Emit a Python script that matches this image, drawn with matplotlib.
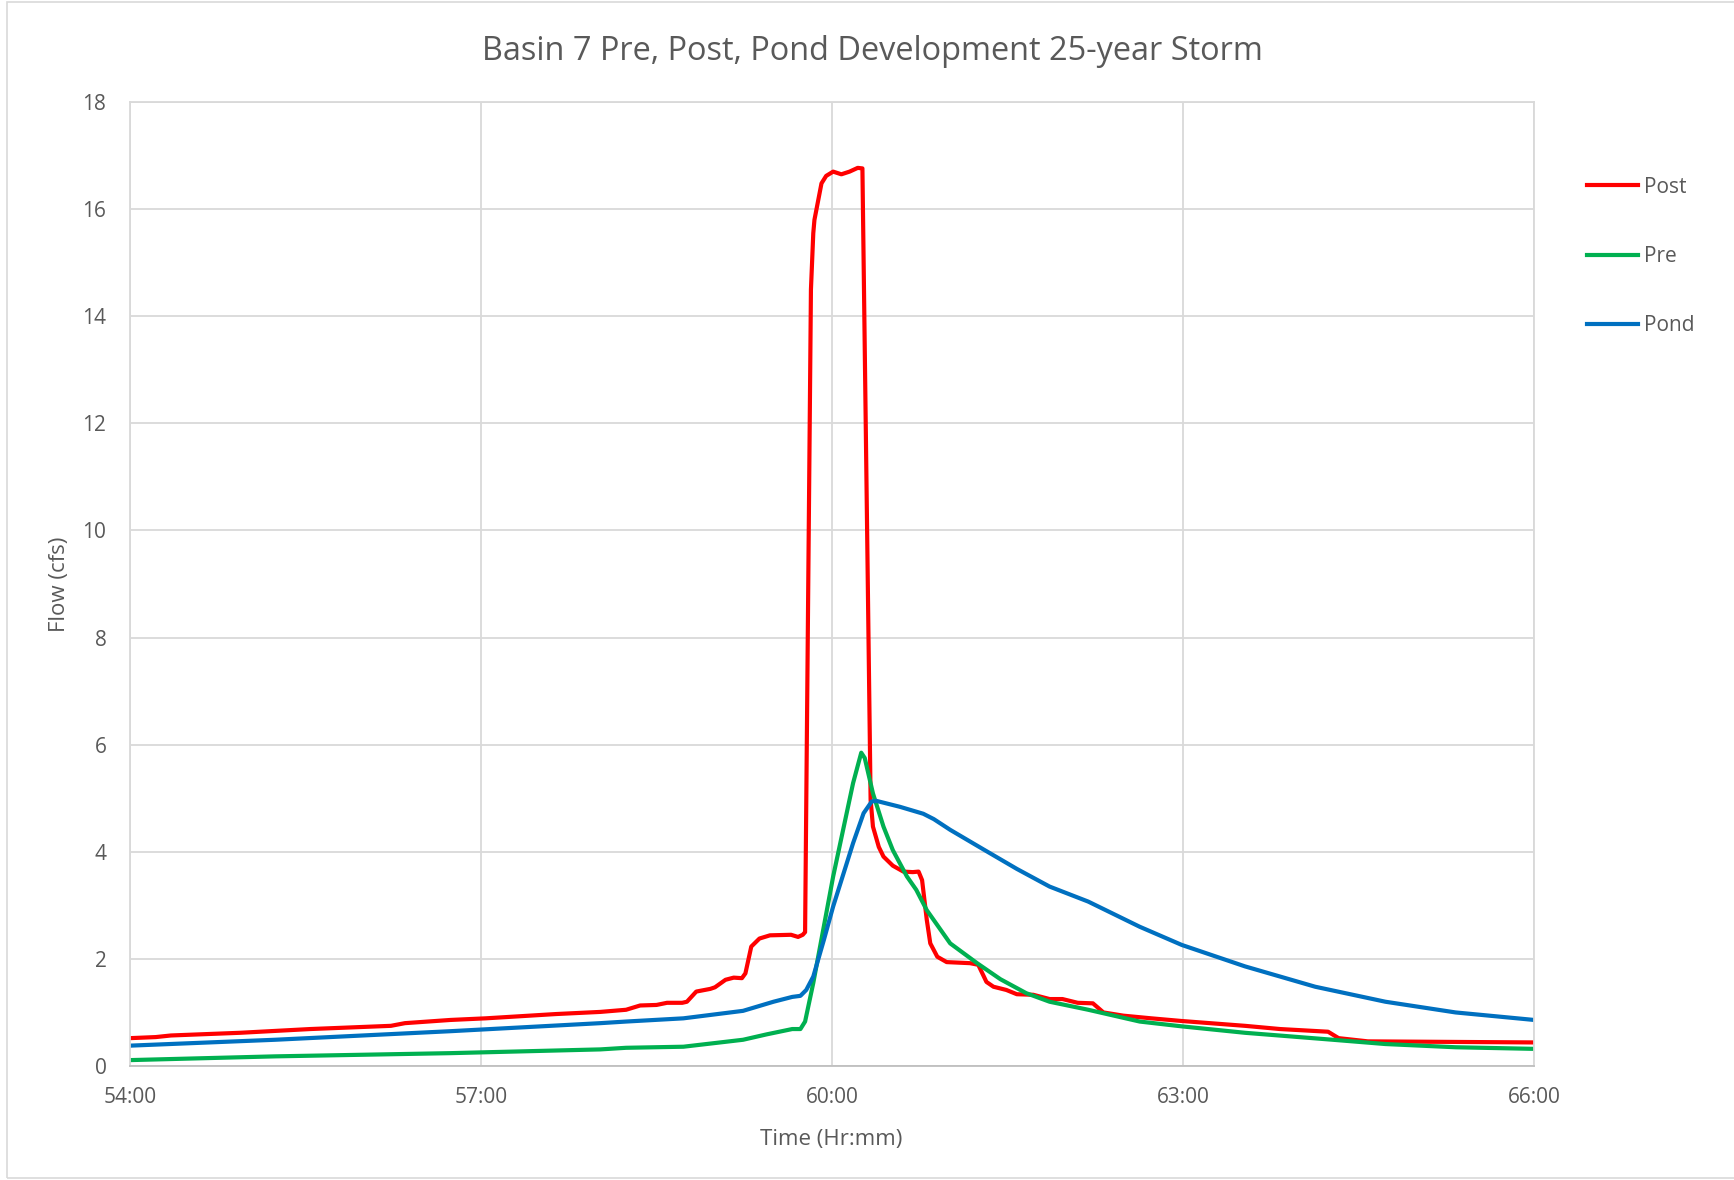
import matplotlib.pyplot as plt
from matplotlib.patches import Rectangle

# hours from start, flow in cfs
post_t = [54.0, 54.22, 54.35, 54.94, 55.54, 56.23, 56.35, 56.74, 57.04, 57.64, 58.02, 58.24,
          58.36, 58.50, 58.59, 58.72, 58.76, 58.84, 58.96, 59.00, 59.09, 59.16, 59.23, 59.26,
          59.31, 59.38, 59.47, 59.65, 59.71, 59.75, 59.77, 59.82, 59.84, 59.85, 59.91, 59.95,
          60.01, 60.08, 60.15, 60.22, 60.26, 60.33, 60.35, 60.40, 60.44, 60.52, 60.61, 60.69,
          60.74, 60.77, 60.81, 60.84, 60.90, 60.98, 61.18, 61.25, 61.32, 61.38, 61.49, 61.58,
          61.72, 61.86, 61.97, 62.10, 62.23, 62.32, 62.49, 62.73, 62.99, 63.23, 63.53, 63.83,
          64.24, 64.33, 64.58, 66.0]
post_q = [0.52, 0.54, 0.57, 0.62, 0.69, 0.75, 0.80, 0.86, 0.89, 0.97, 1.01, 1.05,
          1.13, 1.14, 1.18, 1.18, 1.20, 1.39, 1.44, 1.47, 1.61, 1.65, 1.64, 1.73,
          2.23, 2.38, 2.44, 2.45, 2.41, 2.45, 2.50, 14.5, 15.55, 15.8, 16.48, 16.62,
          16.70, 16.65, 16.70, 16.77, 16.76, 4.97, 4.47, 4.09, 3.91, 3.74, 3.63, 3.62,
          3.63, 3.47, 2.73, 2.29, 2.04, 1.94, 1.92, 1.89, 1.57, 1.48, 1.42, 1.34,
          1.33, 1.25, 1.25, 1.18, 1.17, 1.00, 0.94, 0.89, 0.84, 0.80, 0.75, 0.69,
          0.64, 0.52, 0.46, 0.44]

pre_t = [54.0, 55.24, 56.74, 58.02, 58.24, 58.73, 59.24, 59.44, 59.66, 59.73, 59.77, 59.84,
         60.01, 60.18, 60.25, 60.28, 60.35, 60.44, 60.52, 60.64, 60.72, 60.81, 61.01, 61.24,
         61.44, 61.66, 61.86, 62.19, 62.63, 62.99, 63.53, 64.28, 64.73, 65.33, 66.0]
pre_q = [0.11, 0.18, 0.24, 0.31, 0.34, 0.36, 0.49, 0.59, 0.69, 0.69, 0.83, 1.55,
         3.54, 5.28, 5.85, 5.75, 5.09, 4.47, 4.03, 3.54, 3.29, 2.91, 2.29, 1.92,
         1.62, 1.36, 1.20, 1.05, 0.83, 0.74, 0.62, 0.49, 0.41, 0.35, 0.32]

pond_t = [54.0, 55.24, 56.74, 58.02, 58.24, 58.73, 59.24, 59.50, 59.66, 59.73, 59.78, 59.84,
          59.93, 60.01, 60.18, 60.27, 60.34, 60.38, 60.58, 60.78, 60.87, 61.01, 61.29, 61.58,
          61.86, 62.19, 62.63, 62.99, 63.53, 64.13, 64.73, 65.33, 66.0]
pond_q = [0.38, 0.49, 0.65, 0.80, 0.83, 0.89, 1.03, 1.20, 1.29, 1.31, 1.42, 1.67,
          2.35, 2.98, 4.16, 4.72, 4.94, 4.95, 4.84, 4.71, 4.61, 4.41, 4.05, 3.68,
          3.35, 3.07, 2.60, 2.26, 1.86, 1.48, 1.20, 1.00, 0.86]

x_ticks = [54, 57, 60, 63, 66]
x_labels = ["54:00", "57:00", "60:00", "63:00", "66:00"]

plt.rcParams['font.family'] = ['Open Sans', 'DejaVu Sans']
txt = '#595959'
grid = '#d9d9d9'

fig = plt.figure(figsize=(17.34, 11.8), dpi=100)
ax = fig.add_axes([130 / 1734, 1 - 1066 / 1180, 1404 / 1734, 964 / 1180])

ax.plot(post_t, post_q, color='#ff0000', lw=3.0, label='Post', solid_joinstyle='round')
ax.plot(pre_t, pre_q, color='#00b050', lw=3.0, label='Pre', solid_joinstyle='round')
ax.plot(pond_t, pond_q, color='#0070c0', lw=3.0, label='Pond', solid_joinstyle='round')

ax.set_xlim(54, 66)
ax.set_ylim(0, 18)
ax.set_yticks(range(0, 19, 2))
ax.set_xticks(x_ticks)
ax.set_xticklabels(x_labels)
ax.grid(True, color=grid, lw=1.3)
ax.set_axisbelow(True)
for s in ax.spines.values():
    s.set_color(grid)
    s.set_linewidth(1.3)
ax.spines['bottom'].set_color('#bfbfbf')
ax.tick_params(length=0, labelsize=15, colors=txt)
ax.tick_params(axis='x', pad=15)
ax.tick_params(axis='y', pad=17)

fig.text(752 * 1.1059 / 1734, 1 - 1139 / 1180, "Time (Hr:mm)", ha='center', va='center',
         fontsize=16, color=txt)
fig.text(59 / 1734, 1 - 584 / 1180, "Flow (cfs)", ha='center', va='center', rotation=90,
         fontsize=16, color=txt)
fig.text(0.503, 1 - 51 / 1180, "Basin 7 Pre, Post, Pond Development 25-year Storm",
         ha='center', va='center', fontsize=23.4, color=txt)

fig.legend(loc='upper left', bbox_to_anchor=(1568 / 1734, 1 - 158 / 1180), frameon=False,
           fontsize=15, labelcolor=txt, handlelength=2.44, handletextpad=0.32, labelspacing=2.32)

fig.patches.append(Rectangle((7 / 1734, 2 / 1180), 1.0, 1 - 4 / 1180, transform=fig.transFigure,
                             fill=False, edgecolor=grid, lw=1.2))

fig.savefig("out.png", dpi=100)
